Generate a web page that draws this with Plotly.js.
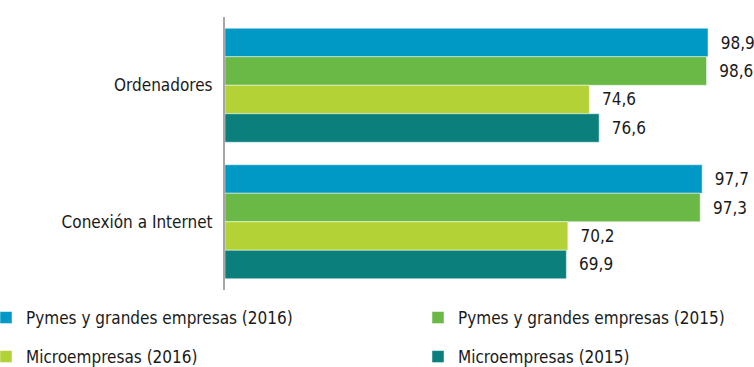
<!DOCTYPE html>
<html>
<head>
<meta charset="utf-8">
<script src="https://cdn.plot.ly/plotly-3.0.1.min.js"></script>
<style>html,body{margin:0;padding:0;background:#fff;}#chart{width:754px;height:367px;}</style>
</head>
<body>
<div id="chart"></div>
<script>
const categories = ["Ordenadores", "Conexión a Internet"];
const seriesNames = ["Pymes y grandes empresas (2016)", "Pymes y grandes empresas (2015)", "Microempresas (2016)", "Microempresas (2015)"];
const pymes2016 = [98.9, 97.7];
const pymes2015 = [98.6, 97.3];
const micro2016 = [74.6, 70.2];
const micro2015 = [76.6, 69.9];
const colors = ["#0098C4", "#6AB946", "#B2D235", "#0B7F7C"];

const values = [pymes2016, pymes2015, micro2016, micro2015];
const legendIds = ["legend", "legend2", "legend3", "legend4"];
const FONT = "DejaVu Sans Condensed, DejaVu Sans, sans-serif";
const FS = 17;
const TXT = "#1a1a1a";

const traces = values.map((v, i) => ({
  type: "bar",
  orientation: "h",
  name: seriesNames[i],
  legend: legendIds[i],
  y: categories,
  x: v,
  marker: {color: colors[i], line: {color: "rgba(255,255,255,0.6)", width: 0.8}},
  texttemplate: "\u00a0\u00a0%{x:.1f}",
  textposition: "outside",
  cliponaxis: false,
  textfont: {family: FONT, size: FS, color: TXT},
  hoverinfo: "x+name"
}));

const legendBase = {
  orientation: "v", xref: "container", yref: "container",
  xanchor: "left", yanchor: "top", indentation: -14,
  font: {family: FONT, size: FS, color: TXT}, itemwidth: 30,
  bgcolor: "rgba(0,0,0,0)", borderwidth: 0
};
const legendPos = [[0, 300], [432, 300], [0, 339], [432, 339]];

const layout = {
  width: 754, height: 367,
  margin: {l: 225, r: 14, t: 17, b: 77, autoexpand: false},
  paper_bgcolor: "#fff", plot_bgcolor: "#fff",
  separators: ",.",
  font: {family: FONT, size: FS, color: TXT},
  barmode: "group",
  bargap: 0.165,
  bargroupgap: 0,
  showlegend: true,
  xaxis: {range: [0, 105.45], showgrid: false, zeroline: false, showticklabels: false, ticks: "", showline: false, fixedrange: true, automargin: false},
  yaxis: {autorange: "reversed", showline: true, linecolor: "#A6A6A6", linewidth: 2, ticks: "", ticklen: 0, showgrid: false, zeroline: false,
          tickfont: {family: FONT, size: FS, color: TXT}, ticklabelstandoff: 7, automargin: false}
};
legendIds.forEach((id, i) => {
  layout[id] = Object.assign({}, legendBase, {x: legendPos[i][0] / 754, y: 1 - legendPos[i][1] / 367});
});

Plotly.newPlot("chart", traces, layout, {displayModeBar: false, staticPlot: true});
</script>
</body>
</html>
